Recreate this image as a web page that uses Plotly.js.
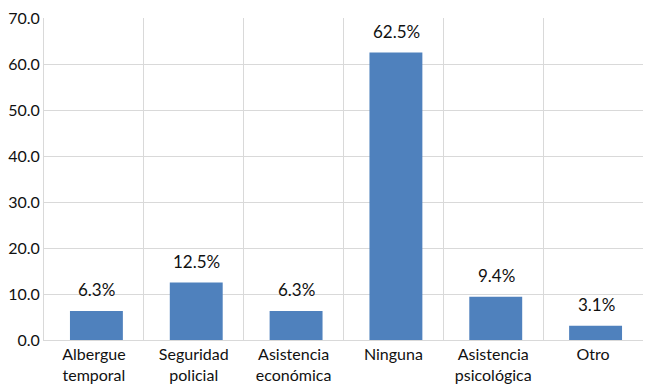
<!DOCTYPE html>
<html>
<head>
<meta charset="utf-8">
<script src="https://cdn.plot.ly/plotly-3.0.1.min.js"></script>
<style>html,body{margin:0;padding:0;background:#fff;}#chart{width:645px;height:387px;}</style>
</head>
<body>
<div id="chart"></div>
<script>
const categories = ["Albergue<br>temporal", "Seguridad<br>policial", "Asistencia<br>económica", "Ninguna", "Asistencia<br>psicológica", "Otro"];
const values = [6.3, 12.5, 6.3, 62.5, 9.4, 3.1];
const yTicks = [0, 10, 20, 30, 40, 50, 60, 70];

const font = "Lato, 'Open Sans', sans-serif";
const annotations = categories.map((c, i) => ({
  x: c, y: values[i], xref: "x", yref: "y",
  text: values[i].toFixed(1) + "%",
  showarrow: false, yanchor: "bottom", yshift: 9, xshift: 3,
  font: {family: font, size: 17, color: "#111"}
}));
Plotly.newPlot("chart", [{
  type: "bar",
  x: categories,
  y: values,
  marker: {color: "#4F81BD"},
  width: 0.53,
  offset: -0.24,
  hoverinfo: "none"
}], {
  width: 645, height: 387,
  margin: {l: 44, r: 2, t: 18, b: 47},
  paper_bgcolor: "#fff", plot_bgcolor: "#fff",
  showlegend: false,
  annotations: annotations,
  xaxis: {
    type: "category",
    tickson: "boundaries",
    showgrid: true, gridcolor: "#d9d9d9", gridwidth: 1,
    showline: true, linecolor: "#d9d9d9", mirror: false,
    ticks: "", tickfont: {family: font, size: 16, color: "#111"},
    automargin: false
  },
  yaxis: {
    range: [0, 70],
    tickvals: yTicks,
    ticktext: yTicks.map(v => v.toFixed(1)),
    showgrid: true, gridcolor: "#d9d9d9", gridwidth: 1,
    showline: true, linecolor: "#d9d9d9",
    zeroline: true, zerolinecolor: "#d9d9d9",
    ticks: "", ticklen: 0,
    tickfont: {family: font, size: 16, color: "#111"},
    automargin: false
  }
}, {staticPlot: true, displayModeBar: false});
</script>
</body>
</html>
